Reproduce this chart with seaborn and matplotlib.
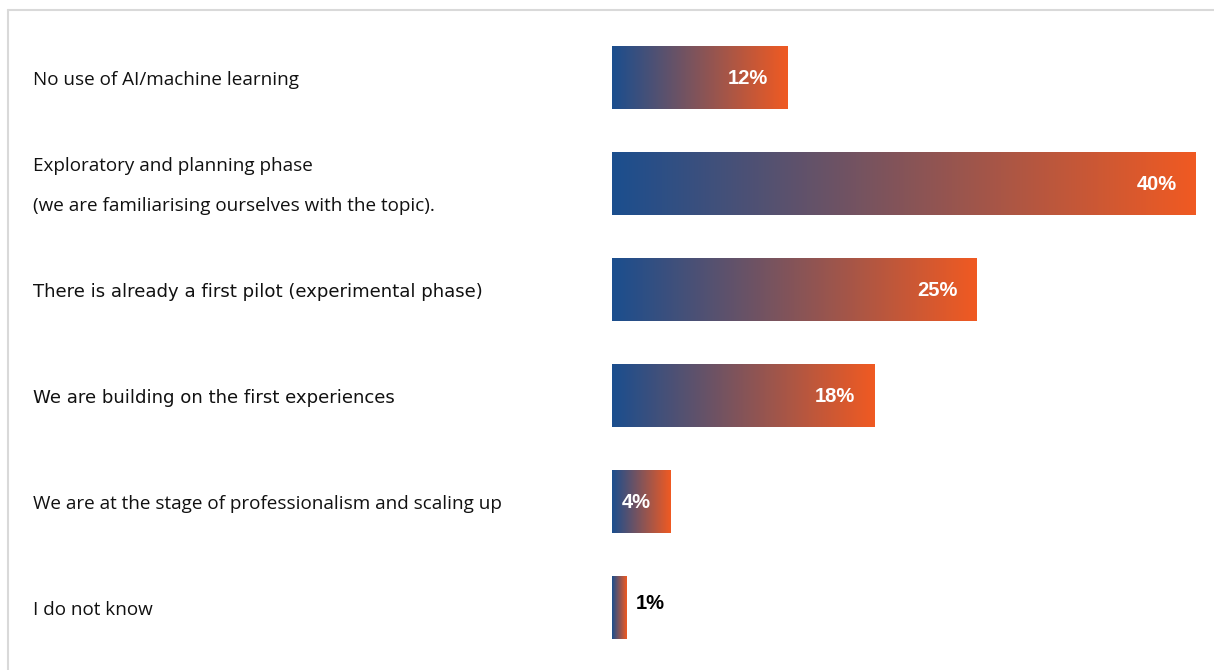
import numpy as np
import pandas as pd
import matplotlib
matplotlib.use("Agg")
import matplotlib.pyplot as plt
import matplotlib.colors as mcolors
import matplotlib.transforms as mtransforms
from matplotlib.lines import Line2D
import seaborn as sns

categories = [
    "No use of AI/machine learning",
    "Exploratory and planning phase\n(we are familiarising ourselves with the topic).",
    "There is already a first pilot (experimental phase)",
    "We are building on the first experiences",
    "We are at the stage of professionalism and scaling up",
    "I do not know",
]
values = [12, 40, 25, 18, 4, 1]
narrow_rows = [2, 3]

BLUE = "#1b4e8e"
ORANGE = "#f05a22"

sns.set_theme(style="white")
W, H = 1214, 670
fig = plt.figure(figsize=(W / 100, H / 100), dpi=100)
ax = fig.add_axes([612 / W, 1 - 661 / H, 584 / W, 636 / H])

df = pd.DataFrame({"stage": categories, "share": values})
sns.barplot(data=df, x="share", y="stage", orient="h", width=0.585,
            color=BLUE, ax=ax)

# paint each bar with its own blue -> orange gradient
cmap = mcolors.LinearSegmentedColormap.from_list("grad", [BLUE, ORANGE])
grad = np.linspace(0, 1, 256).reshape(1, -1)
for patch in list(ax.patches):
    x0, y0 = patch.get_x(), patch.get_y()
    w, h = patch.get_width(), patch.get_height()
    patch.set_visible(False)
    ax.imshow(grad, cmap=cmap, aspect="auto", interpolation="bilinear",
              extent=[x0, x0 + w, y0 + h, y0], zorder=3)

ax.set_xlim(0, 40)
ax.set_ylim(5.5, -0.5)
ax.axis("off")

# value labels
for i, v in enumerate(values):
    if v >= 4:
        ax.annotate(f"{v}%", (v, i), xytext=(-14, 0), textcoords="offset points",
                    ha="right", va="center", color="white", fontweight="bold",
                    fontsize=14.5, family="Liberation Sans", zorder=5)
    else:
        ax.annotate(f"{v}%", (v, i - 0.04), xytext=(6.5, 0), textcoords="offset points",
                    ha="left", va="center", color="black", fontweight="bold",
                    fontsize=14.5, family="Liberation Sans", zorder=5)

# category labels, left aligned in figure space
trans = mtransforms.blended_transform_factory(fig.transFigure, ax.transData)
for i, cat in enumerate(categories):
    if i in narrow_rows:
        ax.text(33 / W, i + 0.02, cat, transform=trans, ha="left", va="center",
                fontsize=13.1, family="DejaVu Sans", color="#111111")
    else:
        ax.text(33 / W, i + 0.02, cat, transform=trans, ha="left", va="center",
                fontsize=13.6, family="Open Sans", linespacing=2.6, color="#111111")

# light frame: only top and left edges show
fig.add_artist(Line2D([8 / W, 1], [1 - 10 / H, 1 - 10 / H], transform=fig.transFigure,
                      color="#d9d9d9", linewidth=1.5))
fig.add_artist(Line2D([8 / W, 8 / W], [0, 1 - 10 / H], transform=fig.transFigure,
                      color="#d9d9d9", linewidth=1.5))

fig.savefig("out.png", dpi=100)
